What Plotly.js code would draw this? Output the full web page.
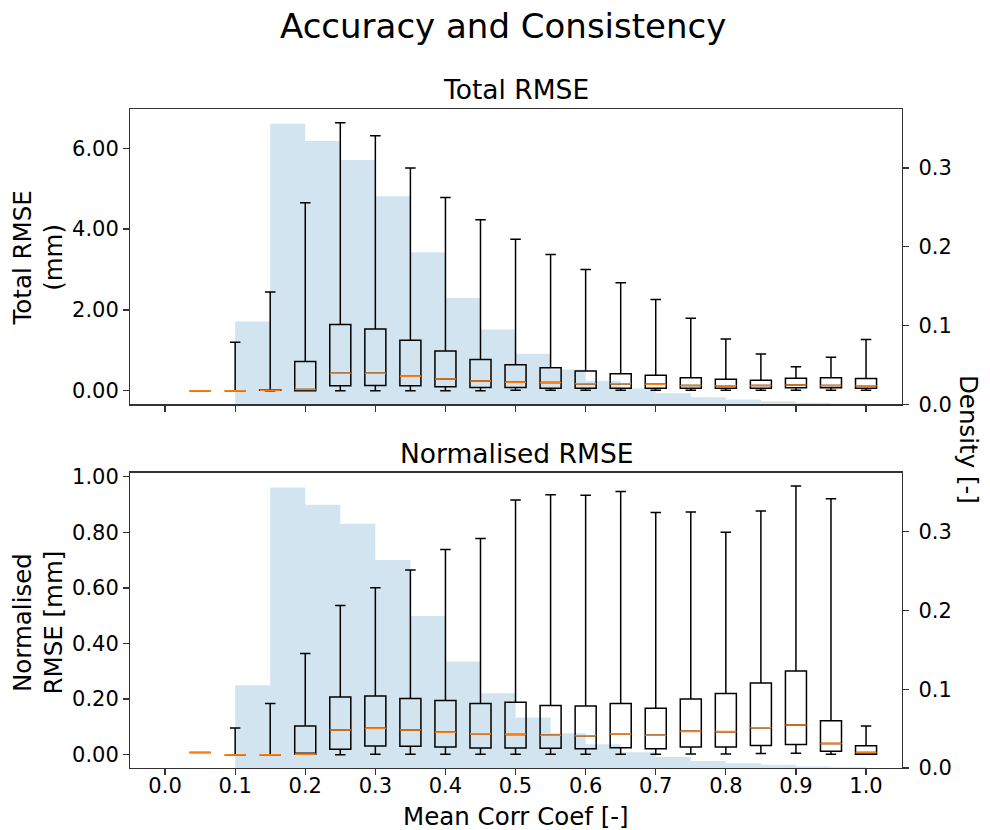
<!DOCTYPE html>
<html>
<head>
<meta charset="utf-8">
<script src="https://cdn.plot.ly/plotly-3.0.1.min.js"></script>
<style>html,body{margin:0;padding:0;background:#fff;}#chart{width:990px;height:830px;}</style>
</head>
<body>
<div id="chart"></div>
<script>
// ---- data ----
const positions = [0.05,0.10,0.15,0.20,0.25,0.30,0.35,0.40,0.45,0.50,0.55,0.60,0.65,0.70,0.75,0.80,0.85,0.90,0.95,1.00];

const totalLower  = [0.00,0.00,0.00,0.00,0.00,0.00,0.00,0.00,0.00,0.01,0.01,0.01,0.01,0.01,0.01,0.01,0.01,0.01,0.01,0.01];
const totalQ1     = [0.00,0.00,0.01,0.00,0.12,0.13,0.12,0.10,0.08,0.08,0.06,0.06,0.06,0.06,0.06,0.06,0.06,0.07,0.07,0.06];
const totalMedian = [0.00,0.00,0.01,0.03,0.43,0.43,0.36,0.29,0.24,0.21,0.20,0.17,0.17,0.16,0.13,0.12,0.13,0.14,0.13,0.12];
const totalQ3     = [0.00,0.00,0.02,0.72,1.64,1.53,1.25,0.98,0.77,0.64,0.57,0.49,0.42,0.38,0.32,0.28,0.26,0.31,0.32,0.30];
const totalUpper  = [0.00,1.20,2.44,4.65,6.63,6.31,5.51,4.78,4.23,3.75,3.37,3.00,2.67,2.26,1.79,1.28,0.91,0.59,0.83,1.27];

const normLower  = [0.008,0.000,0.000,0.002,0.000,0.002,0.002,0.002,0.002,0.002,0.002,0.002,0.002,0.002,0.003,0.003,0.004,0.005,0.002,0.002];
const normQ1     = [0.008,0.000,0.000,0.002,0.020,0.031,0.030,0.028,0.024,0.024,0.023,0.021,0.025,0.021,0.028,0.028,0.033,0.037,0.012,0.002];
const normMedian = [0.008,0.000,0.000,0.002,0.089,0.095,0.089,0.081,0.075,0.073,0.070,0.068,0.075,0.070,0.084,0.083,0.097,0.107,0.040,0.008];
const normQ3     = [0.008,0.000,0.000,0.103,0.208,0.211,0.202,0.195,0.184,0.189,0.177,0.175,0.184,0.167,0.200,0.220,0.258,0.301,0.122,0.032];
const normUpper  = [0.008,0.096,0.184,0.364,0.537,0.601,0.664,0.738,0.778,0.916,0.935,0.933,0.947,0.871,0.873,0.800,0.877,0.967,0.921,0.103];

const binLeft = [0.10,0.15,0.20,0.25,0.30,0.35,0.40,0.45,0.50,0.55,0.60,0.65,0.70,0.75,0.80,0.85,0.90,0.95];
const density = [0.105,0.356,0.334,0.310,0.264,0.193,0.135,0.095,0.064,0.044,0.030,0.020,0.014,0.009,0.006,0.004,0.002,0.001];

const xTicks = [0.0,0.1,0.2,0.3,0.4,0.5,0.6,0.7,0.8,0.9,1.0];

// ---- styling ----
const FONT = 'DejaVu Sans, Liberation Sans, sans-serif';
const BOXW = 0.03;
const BINW = 0.05;
const histColor = 'rgba(31,119,180,0.2)';
const orange = '#ff7f0e';

function histTrace(xa, ya) {
  return {type:'bar', x: binLeft, y: density, width: BINW, offset: 0,
    marker:{color: histColor, line:{width:0}}, xaxis: xa, yaxis: ya, hoverinfo:'skip', showlegend:false};
}
function boxTrace(xa, ya, lo, q1, med, q3, hi) {
  return {type:'box', x: positions, lowerfence: lo, q1: q1, median: med, q3: q3, upperfence: hi,
    width: BOXW, whiskerwidth: 0.5, boxpoints:false,
    line:{color:'#000', width:1.5}, fillcolor:'rgba(0,0,0,0)',
    xaxis: xa, yaxis: ya, hoverinfo:'skip', showlegend:false};
}
function medianTrace(xa, ya, med) {
  return {type:'box', x: positions, lowerfence: med, q1: med, median: med, q3: med, upperfence: med,
    width: BOXW, whiskerwidth: 0, boxpoints:false,
    line:{color: orange, width:1.6}, fillcolor:'rgba(0,0,0,0)',
    xaxis: xa, yaxis: ya, hoverinfo:'skip', showlegend:false};
}

const data = [
  histTrace('x','y'),
  histTrace('x2','y2'),
  boxTrace('x','y3', totalLower, totalQ1, totalMedian, totalQ3, totalUpper),
  medianTrace('x','y3', totalMedian),
  boxTrace('x2','y4', normLower, normQ1, normMedian, normQ3, normUpper),
  medianTrace('x2','y4', normMedian)
];

const frameColor = '#333';
const tickFont = {family: FONT, size: 21, color:'#000'};
const xCommon = {range:[-0.05,1.0513], tickvals: xTicks, tickformat:'.1f', ticks:'outside', ticklen:6, tickwidth:1.3,
  tickcolor: frameColor, showline:true, linecolor: frameColor, linewidth:1.3, mirror:true,
  showgrid:false, zeroline:false, tickfont: tickFont};
const densAxis = {side:'right', range:[0,0.3747], tickvals:[0,0.1,0.2,0.3], tickformat:'.1f', ticks:'outside', ticklen:6,
  tickwidth:1.3, tickcolor: frameColor, showline:true, linecolor: frameColor, linewidth:1.3, mirror:true,
  showgrid:false, zeroline:false, tickfont: tickFont, ticklabelstandoff: 5};
const topDom = [0.5519, 1];
const botDom = [0, 0.4481];

const layout = {
  width: 990, height: 830,
  margin: {l:130, r:88, t:109, b:62},
  paper_bgcolor:'#fff', plot_bgcolor:'#fff',
  showlegend:false, boxmode:'overlay', barmode:'overlay',
  font: {family: FONT, color:'#000'},
  xaxis: Object.assign({}, xCommon, {anchor:'y', domain:[0,1], showticklabels:false}),
  xaxis2: Object.assign({}, xCommon, {anchor:'y2', domain:[0,1], ticklabelstandoff: -8}),
  yaxis: Object.assign({}, densAxis, {anchor:'x', domain: topDom}),
  yaxis2: Object.assign({}, densAxis, {anchor:'x2', domain: botDom}),
  yaxis3: {overlaying:'y', side:'left', anchor:'x', range:[-0.337,6.973], tickvals:[0,2,4,6], tickformat:'.2f',
    ticks:'outside', ticklen:6, tickwidth:1.3, tickcolor: frameColor, showline:false, showgrid:false, zeroline:false, tickfont: tickFont},
  yaxis4: {overlaying:'y2', side:'left', anchor:'x2', range:[-0.0478,1.0144], tickvals:[0,0.2,0.4,0.6,0.8,1.0], tickformat:'.2f',
    ticks:'outside', ticklen:6, tickwidth:1.3, tickcolor: frameColor, showline:false, showgrid:false, zeroline:false, tickfont: tickFont},
  annotations: [
    {text:'Accuracy and Consistency', xref:'paper', yref:'paper', x:(503-130)/772, y:1, yshift:(109-26), xanchor:'center', yanchor:'middle',
      showarrow:false, font:{family:FONT, size:34, color:'#000'}},
    {text:'Total RMSE', xref:'paper', yref:'paper', x:0.5, y:1, yshift:20, xanchor:'center', yanchor:'middle',
      showarrow:false, font:{family:FONT, size:26.5, color:'#000'}},
    {text:'Normalised RMSE', xref:'paper', yref:'paper', x:0.5, y:botDom[1], yshift:19, xanchor:'center', yanchor:'middle',
      showarrow:false, font:{family:FONT, size:26.5, color:'#000'}},
    {text:'Mean Corr Coef [-]', xref:'paper', yref:'paper', x:0.5, y:0, yshift:-48, xanchor:'center', yanchor:'middle',
      showarrow:false, font:{family:FONT, size:24.5, color:'#000'}},
    {text:'Total RMSE<br>(mm)', xref:'paper', yref:'paper', x:0, xshift:-92, y:(768-258.5)/659, xanchor:'center', yanchor:'middle',
      textangle:-90, showarrow:false, font:{family:FONT, size:24.5, color:'#000'}},
    {text:'Normalised<br>RMSE [mm]', xref:'paper', yref:'paper', x:0, xshift:-92, y:(768-622.5)/659, xanchor:'center', yanchor:'middle',
      textangle:-90, showarrow:false, font:{family:FONT, size:24.5, color:'#000'}},
    {text:'Density [-]', xref:'paper', yref:'paper', x:1, xshift:67, y:(768-439)/659, xanchor:'center', yanchor:'middle',
      textangle:90, showarrow:false, font:{family:FONT, size:24.5, color:'#000'}}
  ]
};

Plotly.newPlot('chart', data, layout, {displayModeBar:false, staticPlot:true});
</script>
</body>
</html>
